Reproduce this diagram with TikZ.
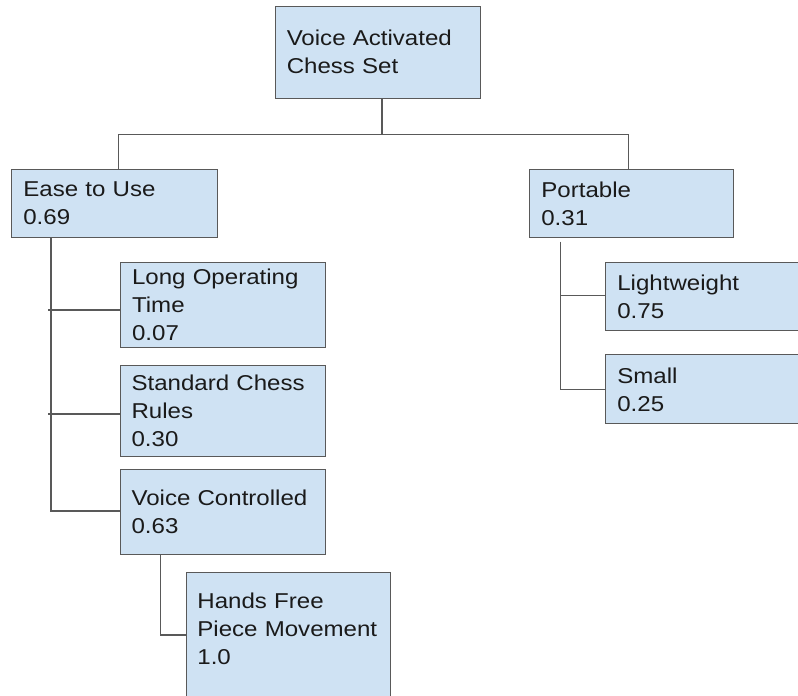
\documentclass[tikz,border=0pt]{standalone}
\usepackage{fontspec}
\setmainfont{Liberation Sans}[FakeStretch=1.12]
\definecolor{boxfill}{HTML}{CFE2F3}
\definecolor{edgegray}{HTML}{595959}
\definecolor{txt}{HTML}{1A1A1A}
\tikzset{
  box/.style={draw=edgegray, fill=boxfill, line width=1.1pt, rectangle,
    anchor=north west, inner xsep=11.5pt, inner ysep=0pt, align=left,
    font=\fontsize{21.5}{28}\selectfont, text=txt},
  label text/.style={rectangle, inner xsep=11.5pt, inner ysep=0pt, align=left,
    font=\fontsize{21.5}{28}\selectfont, text=txt},
  link/.style={draw=edgegray, line width=1.1pt},
}
\begin{document}
\begin{tikzpicture}[x=1pt, y=-1pt]
\useasboundingbox (0,0) rectangle (798,696);
\clip (0,0) rectangle (798,696);

\node[box, minimum width=205.3pt, text width=182.3pt, minimum height=92pt] (root) at (274.7,5.7) {Voice Activated\\Chess Set};
\node[box, minimum width=205.4pt, text width=182.4pt, minimum height=67.4pt] (ease) at (11.3,169.3) {Ease to Use\\0.69};
\node[box, minimum width=204pt, text width=181pt, minimum height=67.4pt] (port) at (529.3,169.3) {Portable\\0.31};
\node[box, minimum width=204.7pt, text width=181.7pt, minimum height=85pt] (long) at (120,261.7) {Long Operating\\Time\\0.07};
\node[box, minimum width=205.5pt, text width=182.5pt, minimum height=91.6pt] (std) at (119.5,364.7) {Standard Chess\\Rules\\0.30};
\node[box, minimum width=205.5pt, text width=182.5pt, minimum height=84.7pt] (vc) at (119.5,469.3) {Voice Controlled\\0.63};
\node[box, minimum width=204.3pt, text width=181.3pt, minimum height=140pt] (hf) at (185.7,572.3) {};
\node[label text, text width=181.3pt, anchor=west] (hft) at (185.7,629) {Hands Free\\Piece Movement\\1.0};
\node[box, minimum width=210pt, text width=187pt, minimum height=68.6pt] (light) at (605.3,261.7) {Lightweight\\0.75};
\node[box, minimum width=210pt, text width=187pt, minimum height=69pt] (small) at (605.3,354.3) {Small\\0.25};

% root to first level
\coordinate (j0) at (382,134.7);
\coordinate (ea) at (118.3,0);
\coordinate (pa) at (628.3,0);
\draw[link] (root.south -| j0) -- (j0);
\draw[link] (ease.north -| ea) |- (j0) -| (port.north -| pa);

% Ease to Use children
\coordinate (es) at (51,0);
\coordinate (l1) at (48.3,310);
\coordinate (l2) at (48.3,414);
\coordinate (l3) at (51,511);
\draw[link] (ease.south -| es) -- (l3) -- (l3 -| vc.west);
\draw[link] (l1) -- (l1 -| long.west);
\draw[link] (l2) -- (l2 -| std.west);

% Voice Controlled child
\coordinate (h1) at (160.3,635);
\draw[link] (vc.south -| h1) -- (h1) -- (h1 -| hf.west);

% Portable children
\coordinate (ps) at (560.7,241.7);
\coordinate (p1) at (560.7,295.7);
\draw[link] (ps) |- (small.west);
\draw[link] (p1) -- (p1 -| light.west);
\end{tikzpicture}
\end{document}
